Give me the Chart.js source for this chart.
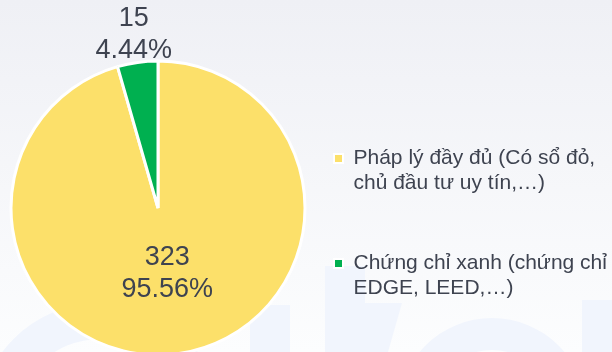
<!DOCTYPE html>
<html>
<head>
<meta charset="utf-8">
<script src="https://cdn.jsdelivr.net/npm/chart.js@4.4.0/dist/chart.umd.min.js"></script>
<style>
  html, body { margin: 0; padding: 0; background: #ffffff; }
  #wrap { width: 612px; height: 352px; }
</style>
</head>
<body>
<div id="wrap"><canvas id="myChart" width="612" height="352"></canvas></div>
<script>
// survey answers, one legend entry per slice (two lines each)
var labels = [
    ['Pháp lý đầy đủ (Có sổ đỏ,', 'chủ đầu tư uy tín,…)'],
    ['Chứng chỉ xanh (chứng chỉ', 'EDGE, LEED,…)']
];
var counts = [323, 15];
var colors = ['#FCE06A', '#00B050'];

var textColor = '#3e4350';
var fontFamily = '"Liberation Sans", Arial, sans-serif';

function pct(v) {
    var total = counts.reduce(function (a, b) { return a + b; }, 0);
    return (v / total * 100).toFixed(2) + '%';
}

// soft grey-to-white backdrop with the faint logo letters behind the chart
var backdrop = {
    id: 'backdrop',
    beforeDraw: function (chart) {
        var ctx = chart.ctx;
        ctx.save();
        var g = ctx.createLinearGradient(0, 0, 0, chart.height);
        g.addColorStop(0, '#eff0f5');
        g.addColorStop(1, '#fcfdfe');
        ctx.fillStyle = g;
        ctx.fillRect(0, 0, chart.width, chart.height);

        ctx.fillStyle = '#f1f5fd';
        ctx.beginPath();
        ctx.arc(100, 425, 122, 0, Math.PI * 2);
        ctx.arc(100, 425, 86, 0, Math.PI * 2, true);
        ctx.fill();
        ctx.fillRect(250, 305, 40, 47);
        ctx.fillRect(325, 266, 40, 86);
        ctx.beginPath();
        ctx.moveTo(365, 303); ctx.lineTo(402, 303);
        ctx.lineTo(388, 352); ctx.lineTo(351, 352);
        ctx.fill();
        ctx.beginPath();
        ctx.arc(492, 412, 94, 0, Math.PI * 2);
        ctx.arc(492, 412, 62, 0, Math.PI * 2, true);
        ctx.fill();
        ctx.fillRect(582, 300, 30, 52);
        ctx.restore();
    }
};

// count and share written on each slice, small slice gets its text outside
var sliceLabels = {
    id: 'sliceLabels',
    afterDatasetsDraw: function (chart) {
        var ctx = chart.ctx;
        var meta = chart.getDatasetMeta(0);
        var total = counts.reduce(function (a, b) { return a + b; }, 0);
        ctx.save();
        ctx.font = '27px ' + fontFamily;
        ctx.fillStyle = textColor;
        ctx.textAlign = 'center';
        ctx.textBaseline = 'middle';
        meta.data.forEach(function (arc, i) {
            var p = arc.getProps(['x', 'y', 'startAngle', 'endAngle', 'outerRadius']);
            var mid = (p.startAngle + p.endAngle) / 2;
            var dist = counts[i] / total > 0.1 ? p.outerRadius * 0.45 : p.outerRadius + 28;
            var cx = p.x + Math.cos(mid) * dist;
            var cy = p.y + Math.sin(mid) * dist;
            ctx.fillText(String(counts[i]), cx, cy - 16);
            ctx.fillText(pct(counts[i]), cx, cy + 16);
        });
        ctx.restore();
    }
};

const config = {
    type: 'pie',
    data: {
        labels: labels,
        datasets: [{
            data: counts,
            backgroundColor: colors,
            borderColor: '#ffffff',
            borderWidth: 3,
            radius: 147
        }]
    },
    options: {
        responsive: false,
        animation: false,
        devicePixelRatio: 1,
        layout: { padding: { left: 37, right: 3, top: 64, bottom: -6 } },
        plugins: {
            tooltip: { enabled: false },
            legend: {
                position: 'right',
                align: 'end',
                maxWidth: 330,
                labels: {
                    boxWidth: 9,
                    boxHeight: 9,
                    padding: 55,
                    color: textColor,
                    font: { family: fontFamily, size: 21, lineHeight: 1.19 },
                    generateLabels: function (chart) {
                        var items = Chart.overrides.doughnut.plugins.legend.labels.generateLabels(chart);
                        items.forEach(function (it) {
                            it.lineWidth = 2;
                            it.strokeStyle = '#ffffff';
                        });
                        return items;
                    }
                }
            }
        }
    },
    plugins: [backdrop, sliceLabels]
};

var myChart = new Chart(document.getElementById('myChart'), config);
</script>
</body>
</html>
